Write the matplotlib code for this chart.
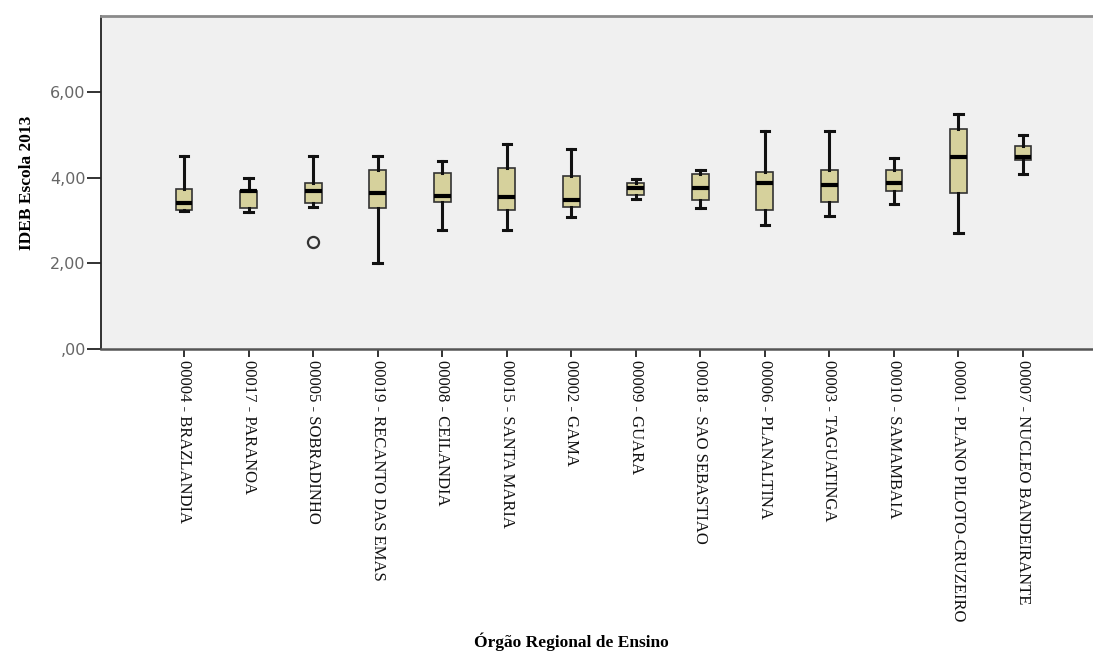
import matplotlib.pyplot as plt
from matplotlib.ticker import FuncFormatter

# IDEB 2013 per regional office: whisker ends, quartiles and median
regionais = ["00004 - BRAZLANDIA", "00017 - PARANOA", "00005 - SOBRADINHO",
             "00019 - RECANTO DAS EMAS", "00008 - CEILANDIA", "00015 - SANTA MARIA",
             "00002 - GAMA", "00009 - GUARA", "00018 - SAO SEBASTIAO",
             "00006 - PLANALTINA", "00003 - TAGUATINGA", "00010 - SAMAMBAIA",
             "00001 - PLANO PILOTO-CRUZEIRO", "00007 - NUCLEO BANDEIRANTE"]
whisk_lo = [3.22, 3.19, 3.31, 2.00, 2.79, 2.79, 3.09, 3.51, 3.30, 2.90, 3.10, 3.39, 2.71, 4.08]
q1 = [3.24, 3.30, 3.41, 3.30, 3.44, 3.24, 3.31, 3.59, 3.49, 3.24, 3.44, 3.69, 3.65, 4.41]
mediana = [3.42, 3.69, 3.69, 3.65, 3.57, 3.55, 3.49, 3.75, 3.76, 3.89, 3.84, 3.89, 4.49, 4.49]
q3 = [3.73, 3.69, 3.89, 4.18, 4.12, 4.24, 4.04, 3.88, 4.09, 4.14, 4.19, 4.19, 5.13, 4.74]
whisk_hi = [4.50, 4.00, 4.50, 4.50, 4.39, 4.78, 4.68, 3.98, 4.19, 5.09, 5.09, 4.47, 5.50, 4.99]
outliers = [[], [], [2.49], [], [], [], [], [], [], [], [], [], [], []]

stats = []
for i in range(len(regionais)):
    stats.append({"whislo": whisk_lo[i], "q1": q1[i], "med": mediana[i],
                  "q3": q3[i], "whishi": whisk_hi[i], "fliers": outliers[i]})

fig = plt.figure(figsize=(10.93, 6.54), dpi=100)
ax = fig.add_axes([101 / 1093, 1 - 349 / 654, (1093 - 101) / 1093, (349 - 16) / 654])
ax.set_facecolor("#f0f0f0")

ax.bxp(stats, positions=range(len(regionais)), widths=0.26, capwidths=0.13,
       patch_artist=True,
       boxprops=dict(facecolor="#d6d19c", edgecolor="#333333", linewidth=1.2),
       medianprops=dict(color="black", linewidth=3),
       whiskerprops=dict(color="#111111", linewidth=2.2),
       capprops=dict(color="#111111", linewidth=2.2),
       flierprops=dict(marker="o", markerfacecolor="none", markeredgecolor="#333333",
                       markersize=8, markeredgewidth=1.6))

ax.set_ylim(0, 7.78)
ax.set_xlim(-1.287, 14.085)
ax.set_yticks([0, 2, 4, 6])
ax.yaxis.set_major_formatter(FuncFormatter(lambda v, p: ",00" if v == 0 else f"{v:.2f}".replace(".", ",")))
ax.tick_params(axis="y", length=10, width=1.3, colors="#222222", labelcolor="#666666",
               labelsize=11.5, pad=1)
ax.set_xticks(range(len(regionais)))
ax.set_xticklabels(regionais, rotation=270, family="Liberation Serif", fontsize=12,
                   color="#111111")
ax.tick_params(axis="x", length=6, width=1.3, colors="#222222", labelcolor="#111111", pad=2)

ax.spines["right"].set_visible(False)
ax.spines["top"].set_color("#8a8a8a")
ax.spines["top"].set_linewidth(2)
ax.spines["left"].set_color("#222222")
ax.spines["left"].set_linewidth(1.3)
ax.spines["bottom"].set_color("#555555")
ax.spines["bottom"].set_linewidth(1.8)

fig.text(27 / 1093, 1 - 183 / 654, "IDEB Escola 2013", rotation=90, ha="center", va="center",
         family="Liberation Serif", fontweight="bold", fontsize=12.5)
fig.text(571 / 1093, 1 - 642 / 654, "Órgão Regional de Ensino", ha="center", va="center",
         family="Liberation Serif", fontweight="bold", fontsize=12.5)

fig.savefig("out.png", dpi=100)
